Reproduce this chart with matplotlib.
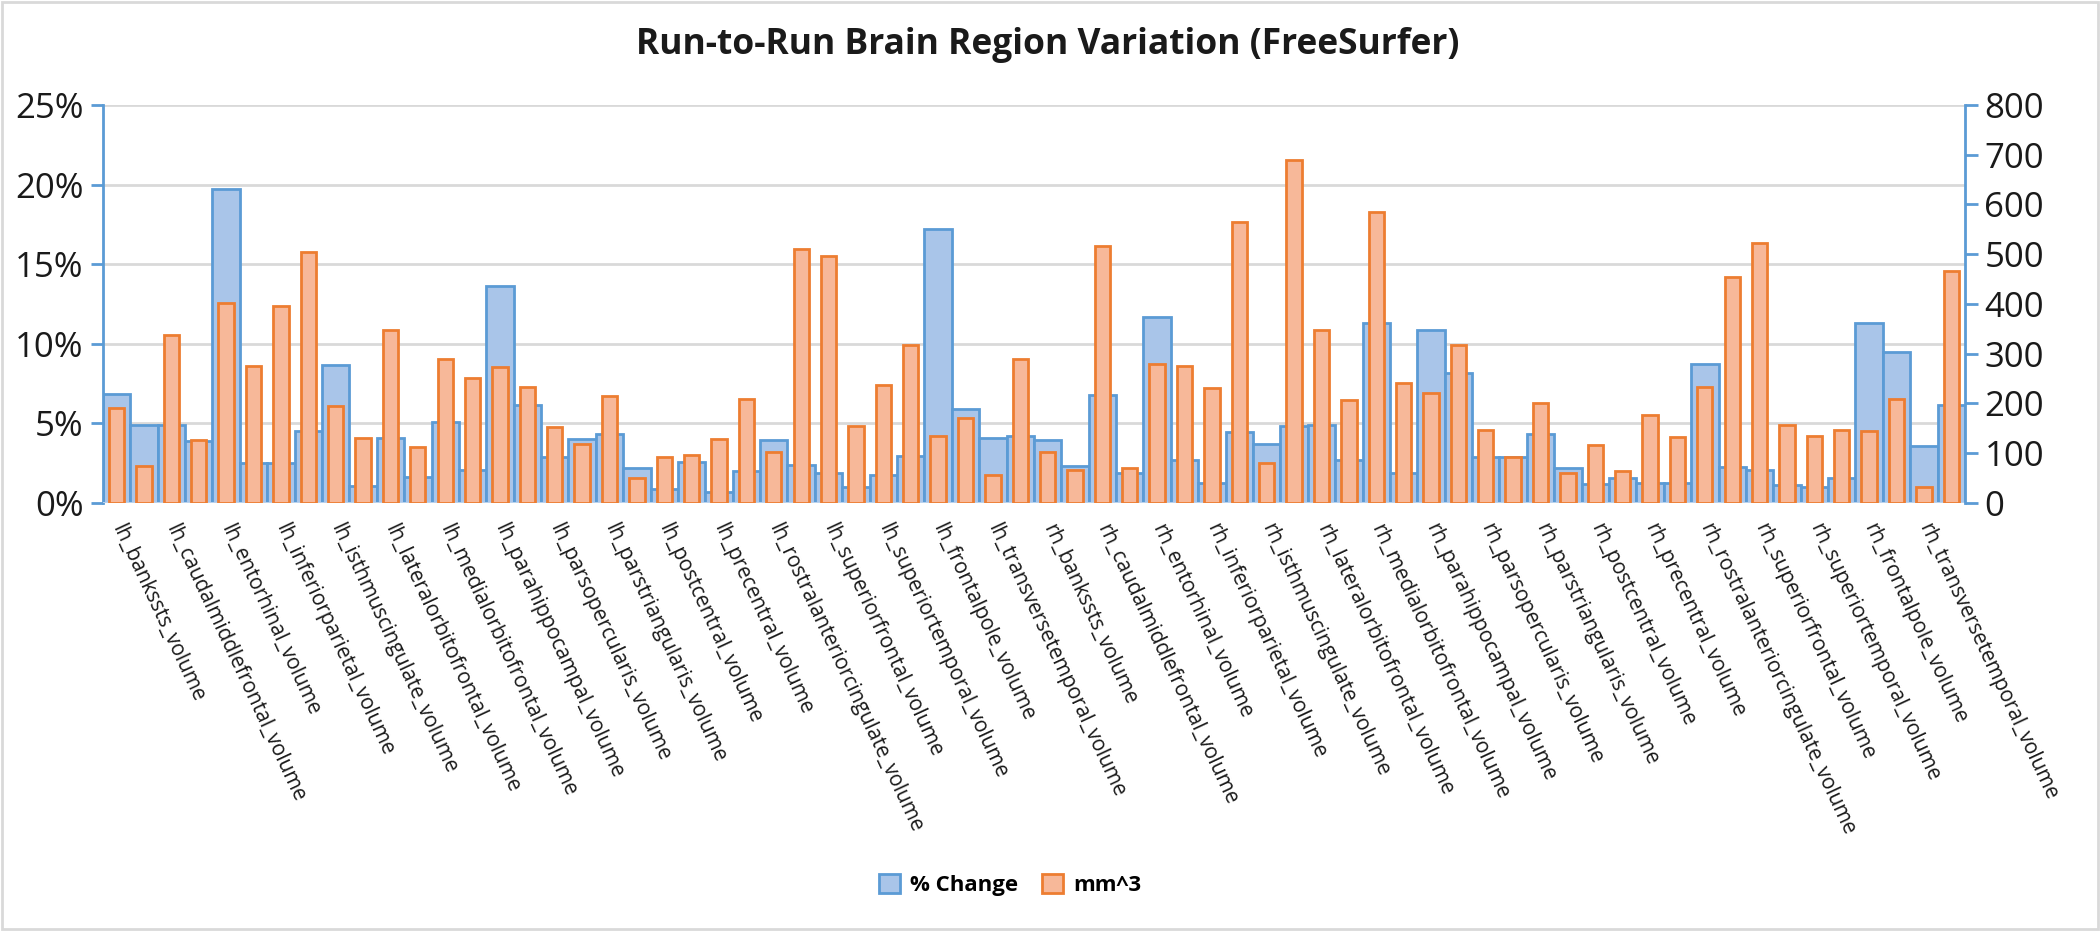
import matplotlib.pyplot as plt
from matplotlib.patches import Rectangle
from matplotlib.ticker import FuncFormatter
import numpy as np

plt.rcParams['font.family'] = ['Open Sans', 'DejaVu Sans']

regions = ['bankssts', 'caudalanteriorcingulate', 'caudalmiddlefrontal', 'cuneus',
           'entorhinal', 'fusiform', 'inferiorparietal', 'inferiortemporal',
           'isthmuscingulate', 'lateraloccipital', 'lateralorbitofrontal', 'lingual',
           'medialorbitofrontal', 'middletemporal', 'parahippocampal', 'paracentral',
           'parsopercularis', 'parsorbitalis', 'parstriangularis', 'pericalcarine',
           'postcentral', 'posteriorcingulate', 'precentral', 'precuneus',
           'rostralanteriorcingulate', 'rostralmiddlefrontal', 'superiorfrontal',
           'superiorparietal', 'superiortemporal', 'supramarginal', 'frontalpole',
           'temporalpole', 'transversetemporal', 'insula']
labels = ['lh_' + r + '_volume' for r in regions] + ['rh_' + r + '_volume' for r in regions]

# % change (left axis)
pct_change = [6.85, 4.9, 4.9, 3.85, 19.7, 2.48, 2.48, 4.54, 8.68, 1.05,
              4.04, 1.64, 5.05, 2.08, 13.6, 6.15, 2.9, 3.99, 4.33, 2.18,
              0.86, 2.56, 0.7, 2.0, 3.95, 2.37, 1.85, 1.0, 1.74, 2.96,
              17.2, 5.92, 4.1, 4.17, 3.92, 2.32, 6.78, 1.85, 11.7, 2.69,
              1.22, 4.43, 3.7, 4.84, 4.87, 2.7, 11.28, 1.9, 10.86, 8.18,
              2.88, 2.88, 4.33, 2.18, 1.2, 1.56, 1.22, 1.22, 8.73, 2.22,
              2.05, 1.14, 1.02, 1.55, 11.28, 9.5, 3.56, 6.15]

# absolute difference in mm^3 (right axis)
mm3 = [190, 74, 337, 126, 402, 275, 396, 505, 194, 131,
       347, 112, 289, 251, 274, 232, 152, 118, 215, 49,
       91, 96, 128, 208, 103, 510, 497, 155, 237, 317,
       135, 170, 56, 290, 102, 66, 517, 70, 280, 275,
       230, 565, 80, 689, 347, 206, 584, 240, 220, 317,
       146, 93, 201, 59, 117, 63, 176, 133, 233, 455,
       523, 156, 134, 146, 145, 209, 32, 466]

x = np.arange(len(labels))

fig = plt.figure(figsize=(21, 9.31), dpi=100)
ax = fig.add_axes([0.049, 0.46, 0.8867, 0.4272])
ax2 = ax.twinx()

blue_edge = '#5b9bd5'
orange_edge = '#ed7d31'

ax.bar(x, pct_change, width=1.0, color='#a9c5e9', edgecolor=blue_edge,
       linewidth=2, label='% Change', zorder=2)
ax2.bar(x, mm3, width=0.56, color='#f7b899', edgecolor=orange_edge,
        linewidth=2, label='mm^3', zorder=3)

ax.set_ylim(0, 25)
ax.set_yticks(np.arange(0, 26, 5))
ax.yaxis.set_major_formatter(FuncFormatter(lambda v, p: '%d%%' % v))
ax2.set_ylim(0, 800)
ax2.set_yticks(np.arange(0, 801, 100))
ax.set_xlim(-0.5, len(labels) - 0.5)

ax.grid(axis='y', color='#d9d9d9', linewidth=2, zorder=0)
ax.set_axisbelow(True)

for a in (ax, ax2):
    for s in ('top', 'bottom'):
        a.spines[s].set_visible(False)
ax.spines['left'].set_color(blue_edge)
ax.spines['left'].set_linewidth(2)
ax2.spines['left'].set_visible(False)
ax.spines['right'].set_visible(False)
ax2.spines['right'].set_color(blue_edge)
ax2.spines['right'].set_linewidth(2)
ax.axhline(0, color='#c5d9f0', linewidth=2, zorder=4)

ax.tick_params(axis='y', colors=blue_edge, width=2, length=9, labelsize=25,
               labelcolor='#1a1a1a', pad=5)
ax2.tick_params(axis='y', colors=blue_edge, width=2, length=9, labelsize=25,
                labelcolor='#1a1a1a', pad=5)

ax.set_xticks(x[::2])
ax.set_xticklabels(labels[::2], rotation=-65, ha='left', va='center',
                   rotation_mode='anchor', fontsize=15, color='#1a1a1a')
ax.tick_params(axis='x', length=0, pad=16)

fig.text(0.499, 0.952, 'Run-to-Run Brain Region Variation (FreeSurfer)',
         ha='center', va='center', fontsize=25.5, fontweight='bold', color='#1a1a1a')

h1, l1 = ax.get_legend_handles_labels()
h2, l2 = ax2.get_legend_handles_labels()
fig.legend(h1 + h2, l1 + l2, loc='center', bbox_to_anchor=(0.481, 0.049), ncol=2,
           frameon=False, prop={'size': 16, 'weight': 'bold'}, handlelength=0.95,
           handleheight=0.95, columnspacing=1.1, handletextpad=0.45)

fig.patches.append(Rectangle((0.001, 0.002), 0.998, 0.996, transform=fig.transFigure,
                             fill=False, edgecolor='#d9d9d9', linewidth=2))

fig.savefig('out.png', dpi=100)
